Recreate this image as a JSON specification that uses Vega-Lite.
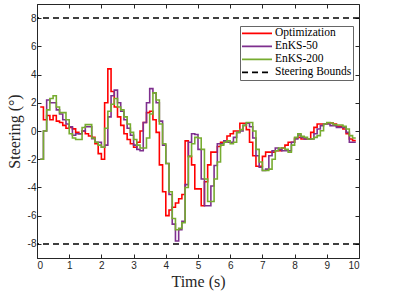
{
  "$schema": "https://vega.github.io/schema/vega-lite/v6.json",
  "width": 322,
  "height": 254,
  "autosize": "none",
  "padding": {"left": 37, "top": 4, "right": 34, "bottom": 48},
  "background": "white",
  "config": {
    "view": {"stroke": "#262626", "strokeWidth": 1},
    "axis": {
      "grid": false,
      "domainColor": "#262626",
      "tickColor": "#262626",
      "tickSize": -4,
      "labelOverlap": false,
      "labelColor": "#262626",
      "labelFont": "Liberation Sans",
      "labelFontSize": 10,
      "titleFont": "Liberation Serif",
      "titleFontWeight": "normal",
      "titleFontSize": 16,
      "titleColor": "#262626"
    }
  },
  "resolve": {"axis": {"x": "independent", "y": "independent"}},
  "layer": [
    {
      "data": {
        "values": [
          {"t": 0.1, "Optimization": 1.7, "EnKS-50": -2.0, "EnKS-200": -2.0},
          {"t": 0.2, "Optimization": 0.8, "EnKS-50": 0.0, "EnKS-200": 0.0},
          {"t": 0.3, "Optimization": 1.1, "EnKS-50": 2.2, "EnKS-200": 1.5},
          {"t": 0.4, "Optimization": 0.8, "EnKS-50": 2.0, "EnKS-200": 2.3},
          {"t": 0.5, "Optimization": 1.1, "EnKS-50": 2.0, "EnKS-200": 2.5},
          {"t": 0.6, "Optimization": 0.7, "EnKS-50": 1.5, "EnKS-200": 1.7},
          {"t": 0.7, "Optimization": 0.6, "EnKS-50": 1.2, "EnKS-200": 1.3},
          {"t": 0.8, "Optimization": 0.4, "EnKS-50": 0.8, "EnKS-200": 1.3},
          {"t": 0.9, "Optimization": 0.2, "EnKS-50": 0.5, "EnKS-200": 0.8},
          {"t": 1.0, "Optimization": 0.25, "EnKS-50": 0.3, "EnKS-200": -0.2},
          {"t": 1.1, "Optimization": 0.15, "EnKS-50": -0.3, "EnKS-200": -0.5},
          {"t": 1.2, "Optimization": -0.1, "EnKS-50": -0.2, "EnKS-200": -0.6},
          {"t": 1.3, "Optimization": -0.2, "EnKS-50": -0.2, "EnKS-200": -0.6},
          {"t": 1.4, "Optimization": 0.0, "EnKS-50": 0.0, "EnKS-200": 0.25},
          {"t": 1.5, "Optimization": -0.2, "EnKS-50": 0.3, "EnKS-200": 0.45},
          {"t": 1.6, "Optimization": -0.35, "EnKS-50": 0.3, "EnKS-200": 0.45},
          {"t": 1.7, "Optimization": -0.45, "EnKS-50": -0.55, "EnKS-200": -0.5},
          {"t": 1.8, "Optimization": -0.9, "EnKS-50": -0.8, "EnKS-200": -0.8},
          {"t": 1.9, "Optimization": -1.6, "EnKS-50": -0.8, "EnKS-200": -1.0},
          {"t": 2.0, "Optimization": -2.0, "EnKS-50": -1.15, "EnKS-200": -1.15},
          {"t": 2.1, "Optimization": 2.0, "EnKS-50": -1.0, "EnKS-200": 0.2},
          {"t": 2.2, "Optimization": 4.4, "EnKS-50": 1.0, "EnKS-200": 1.4},
          {"t": 2.3, "Optimization": 2.8, "EnKS-50": 2.5, "EnKS-200": 1.9},
          {"t": 2.4, "Optimization": 1.7, "EnKS-50": 2.9, "EnKS-200": 2.3},
          {"t": 2.5, "Optimization": 1.0, "EnKS-50": 2.0, "EnKS-200": 1.7},
          {"t": 2.6, "Optimization": 0.4, "EnKS-50": 1.4, "EnKS-200": 1.5},
          {"t": 2.7, "Optimization": -0.2, "EnKS-50": 0.8, "EnKS-200": 1.0},
          {"t": 2.8, "Optimization": -0.6, "EnKS-50": 0.2, "EnKS-200": 0.5},
          {"t": 2.9, "Optimization": -0.9, "EnKS-50": -0.3, "EnKS-200": -0.1},
          {"t": 3.0, "Optimization": -1.15, "EnKS-50": -1.0, "EnKS-200": -0.6},
          {"t": 3.1, "Optimization": -0.8, "EnKS-50": -1.3, "EnKS-200": -1.0},
          {"t": 3.2, "Optimization": 0.0, "EnKS-50": -1.4, "EnKS-200": -1.2},
          {"t": 3.3, "Optimization": 0.6, "EnKS-50": 0.6, "EnKS-200": -1.2},
          {"t": 3.4, "Optimization": 1.3, "EnKS-50": 2.0, "EnKS-200": -0.5},
          {"t": 3.5, "Optimization": 1.4, "EnKS-50": 3.0, "EnKS-200": 1.2},
          {"t": 3.6, "Optimization": 0.8, "EnKS-50": 2.7, "EnKS-200": 2.7},
          {"t": 3.7, "Optimization": -0.1, "EnKS-50": 2.0, "EnKS-200": 2.2},
          {"t": 3.8, "Optimization": -2.4, "EnKS-50": 0.7, "EnKS-200": 0.5},
          {"t": 3.9, "Optimization": -4.3, "EnKS-50": -1.0, "EnKS-200": -0.9},
          {"t": 4.0, "Optimization": -6.0, "EnKS-50": -2.3, "EnKS-200": -2.3},
          {"t": 4.1, "Optimization": -5.6, "EnKS-50": -4.5, "EnKS-200": -4.3},
          {"t": 4.2, "Optimization": -5.4, "EnKS-50": -6.6, "EnKS-200": -6.2},
          {"t": 4.3, "Optimization": -5.1, "EnKS-50": -7.8, "EnKS-200": -7.0},
          {"t": 4.4, "Optimization": -4.8, "EnKS-50": -7.0, "EnKS-200": -6.9},
          {"t": 4.5, "Optimization": -4.5, "EnKS-50": -6.4, "EnKS-200": -6.5},
          {"t": 4.6, "Optimization": -0.7, "EnKS-50": -3.8, "EnKS-200": -4.0},
          {"t": 4.7, "Optimization": -1.8, "EnKS-50": -0.8, "EnKS-200": -1.8},
          {"t": 4.8, "Optimization": -2.4, "EnKS-50": -0.2, "EnKS-200": -0.9},
          {"t": 4.9, "Optimization": -4.1, "EnKS-50": -0.25, "EnKS-200": -0.45},
          {"t": 5.0, "Optimization": -4.1, "EnKS-50": -1.3, "EnKS-200": -0.5},
          {"t": 5.1, "Optimization": -5.3, "EnKS-50": -3.4, "EnKS-200": -1.3},
          {"t": 5.2, "Optimization": -3.6, "EnKS-50": -5.3, "EnKS-200": -3.4},
          {"t": 5.3, "Optimization": -2.4, "EnKS-50": -5.3, "EnKS-200": -5.0},
          {"t": 5.4, "Optimization": -1.5, "EnKS-50": -3.9, "EnKS-200": -5.0},
          {"t": 5.5, "Optimization": -1.5, "EnKS-50": -2.45, "EnKS-200": -3.4},
          {"t": 5.6, "Optimization": -1.1, "EnKS-50": -0.9, "EnKS-200": -2.2},
          {"t": 5.7, "Optimization": -0.8, "EnKS-50": -0.9, "EnKS-200": -1.0},
          {"t": 5.8, "Optimization": -0.8, "EnKS-50": -0.7, "EnKS-200": -0.8},
          {"t": 5.9, "Optimization": -0.35, "EnKS-50": -0.8, "EnKS-200": -0.7},
          {"t": 6.0, "Optimization": -0.2, "EnKS-50": -0.8, "EnKS-200": -0.9},
          {"t": 6.1, "Optimization": 0.0, "EnKS-50": -0.45, "EnKS-200": -0.8},
          {"t": 6.2, "Optimization": 0.0, "EnKS-50": -0.1, "EnKS-200": -0.1},
          {"t": 6.3, "Optimization": 0.55, "EnKS-50": 0.0, "EnKS-200": 0.1},
          {"t": 6.4, "Optimization": 0.55, "EnKS-50": 0.4, "EnKS-200": 0.4},
          {"t": 6.5, "Optimization": 0.1, "EnKS-50": 0.55, "EnKS-200": 0.6},
          {"t": 6.6, "Optimization": -0.8, "EnKS-50": 0.3, "EnKS-200": 0.6},
          {"t": 6.7, "Optimization": -1.75, "EnKS-50": -0.5, "EnKS-200": 0.0},
          {"t": 6.8, "Optimization": -2.5, "EnKS-50": -1.75, "EnKS-200": -1.3},
          {"t": 6.9, "Optimization": -2.5, "EnKS-50": -2.57, "EnKS-200": -2.2},
          {"t": 7.0, "Optimization": -1.8, "EnKS-50": -2.8, "EnKS-200": -2.8},
          {"t": 7.1, "Optimization": -1.5, "EnKS-50": -2.7, "EnKS-200": -2.8},
          {"t": 7.2, "Optimization": -1.5, "EnKS-50": -1.75, "EnKS-200": -2.7},
          {"t": 7.3, "Optimization": -1.5, "EnKS-50": -1.4, "EnKS-200": -2.0},
          {"t": 7.4, "Optimization": -1.4, "EnKS-50": -1.2, "EnKS-200": -1.4},
          {"t": 7.5, "Optimization": -1.4, "EnKS-50": -1.3, "EnKS-200": -1.2},
          {"t": 7.6, "Optimization": -1.2, "EnKS-50": -1.4, "EnKS-200": -1.2},
          {"t": 7.7, "Optimization": -1.0, "EnKS-50": -1.4, "EnKS-200": -1.3},
          {"t": 7.8, "Optimization": -0.8, "EnKS-50": -1.4, "EnKS-200": -1.5},
          {"t": 7.9, "Optimization": -0.8, "EnKS-50": -0.8, "EnKS-200": -1.0},
          {"t": 8.0, "Optimization": -0.5, "EnKS-50": -0.57, "EnKS-200": -0.45},
          {"t": 8.1, "Optimization": -0.45, "EnKS-50": -0.28, "EnKS-200": -0.2},
          {"t": 8.2, "Optimization": -0.57, "EnKS-50": -0.45, "EnKS-200": -0.38},
          {"t": 8.3, "Optimization": -0.57, "EnKS-50": -0.57, "EnKS-200": -0.45},
          {"t": 8.4, "Optimization": -0.57, "EnKS-50": -0.57, "EnKS-200": -0.57},
          {"t": 8.5, "Optimization": -0.1, "EnKS-50": -0.57, "EnKS-200": -0.57},
          {"t": 8.6, "Optimization": 0.26, "EnKS-50": -0.2, "EnKS-200": -0.45},
          {"t": 8.7, "Optimization": 0.5, "EnKS-50": 0.14, "EnKS-200": -0.33},
          {"t": 8.8, "Optimization": 0.5, "EnKS-50": 0.38, "EnKS-200": 0.02},
          {"t": 8.9, "Optimization": 0.5, "EnKS-50": 0.5, "EnKS-200": 0.5},
          {"t": 9.0, "Optimization": 0.57, "EnKS-50": 0.5, "EnKS-200": 0.6},
          {"t": 9.1, "Optimization": 0.57, "EnKS-50": 0.38, "EnKS-200": 0.57},
          {"t": 9.2, "Optimization": 0.5, "EnKS-50": 0.38, "EnKS-200": 0.45},
          {"t": 9.3, "Optimization": 0.33, "EnKS-50": 0.26, "EnKS-200": 0.43},
          {"t": 9.4, "Optimization": 0.33, "EnKS-50": 0.26, "EnKS-200": 0.43},
          {"t": 9.5, "Optimization": 0.14, "EnKS-50": 0.26, "EnKS-200": 0.33},
          {"t": 9.6, "Optimization": -0.2, "EnKS-50": -0.1, "EnKS-200": 0.14},
          {"t": 9.7, "Optimization": -0.57, "EnKS-50": -0.8, "EnKS-200": -0.33},
          {"t": 9.8, "Optimization": -0.68, "EnKS-50": -0.8, "EnKS-200": -0.5},
          {"t": 9.9, "Optimization": -0.68, "EnKS-50": -0.8, "EnKS-200": -0.5}
        ]
      },
      "transform": [
        {"fold": ["Optimization", "EnKS-50", "EnKS-200"], "as": ["series", "v"]}
      ],
      "mark": {"type": "line", "interpolate": "step-after", "strokeWidth": 1.6, "clip": true},
      "encoding": {
        "x": {
          "field": "t", "type": "quantitative",
          "scale": {"domain": [0, 10], "nice": false, "zero": false},
          "axis": {"values": [0,1,2,3,4,5,6,7,8,9,10], "title": "Time (s)", "labelPadding": 6, "titlePadding": 3}
        },
        "y": {
          "field": "v", "type": "quantitative",
          "scale": {"domain": [-9, 9], "nice": false, "zero": false},
          "axis": {"values": [-8,-6,-4,-2,0,2,4,6,8], "title": "Steering (°)", "labelExpr": "'' + datum.value", "labelPadding": 5, "titlePadding": 5}
        },
        "color": {
          "field": "series", "type": "nominal",
          "scale": {"domain": ["Optimization", "EnKS-50", "EnKS-200", "Steering Bounds"], "range": ["#FF0000", "#7E2F8E", "#77AC30", "#000000"]},
          "legend": {
            "title": null, "orient": "none", "legendX": 203, "legendY": 22,
            "symbolType": "stroke", "symbolSize": 900, "symbolStrokeWidth": 1.6,
            "labelFont": "Liberation Serif", "labelFontSize": 11.5, "labelColor": "#000000",
            "clipHeight": 12.7, "rowPadding": 0, "padding": 1, "labelOffset": 2,
            "fillColor": "white", "strokeColor": "#666666"
          }
        },
        "strokeDash": {
          "field": "series", "type": "nominal",
          "scale": {"domain": ["Optimization", "EnKS-50", "EnKS-200", "Steering Bounds"], "range": [[1,0],[1,0],[1,0],[6,4]]},
          "legend": null
        }
      }
    },
    {
      "data": {"values": [{"b": 8, "series": "Steering Bounds"}, {"b": -8, "series": "Steering Bounds"}]},
      "mark": {"type": "rule", "strokeWidth": 1.5},
      "encoding": {
        "y": {"field": "b", "type": "quantitative", "axis": null},
        "color": {"field": "series", "type": "nominal"},
        "strokeDash": {"field": "series", "type": "nominal"}
      }
    },
    {
      "data": {"values": [{"t": 5, "v": 0}]},
      "mark": {"type": "point", "opacity": 0},
      "encoding": {
        "x": {"field": "t", "type": "quantitative", "axis": {"orient": "top", "values": [0,1,2,3,4,5,6,7,8,9,10], "labels": false, "title": null, "domain": false}},
        "y": {"field": "v", "type": "quantitative", "axis": {"orient": "right", "values": [-8,-6,-4,-2,0,2,4,6,8], "labels": false, "title": null, "domain": false}}
      }
    }
  ]
}
